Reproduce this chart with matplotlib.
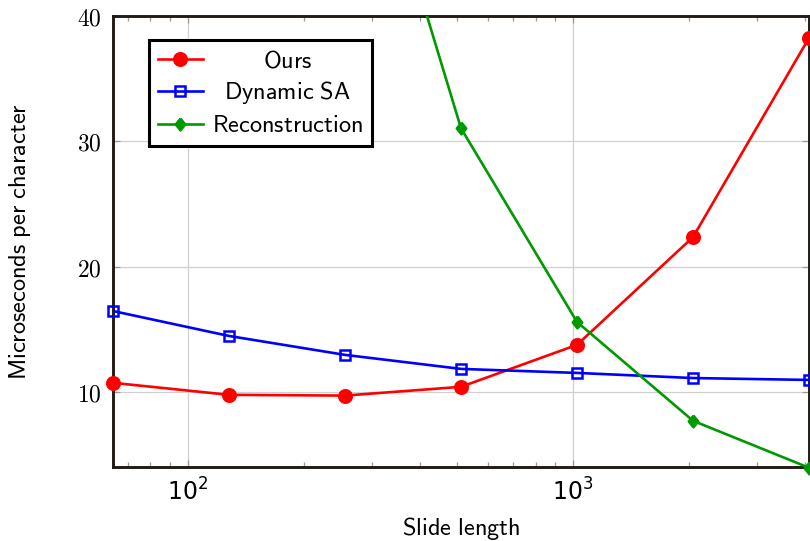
import numpy as np
import matplotlib
matplotlib.use("Agg")
import matplotlib.pyplot as plt
from matplotlib.ticker import FixedLocator, LogLocator, NullFormatter, FuncFormatter

plt.rcParams['mathtext.fontset'] = 'cm'

slide_length = [64, 128, 256, 512, 1024, 2048, 4096]
ours = [10.72, 9.76, 9.70, 10.40, 13.75, 22.35, 38.25]
dynamic_sa = [16.45, 14.46, 12.95, 11.83, 11.51, 11.10, 10.95]
recon_x = [256, 512, 1024, 2048, 4096]
reconstruction = [61.6, 31.04, 15.58, 7.69, 3.94]

y_ticks = [10, 20, 30, 40]

W, H = 810, 541
fig = plt.figure(figsize=(W / 100, H / 100), dpi=100)
ax = fig.add_axes([113 / W, 1 - 467 / H, (809 - 113) / W, (467 - 16) / H])

ax.set_xscale('log')
ax.set_xlim(64, 4096)
ax.set_ylim(4, 40)

red, blue, green = '#ff0000', '#0000ff', '#009900'
lw = 1.9
diamond = [(0, 1), (0.8, 0), (0, -1), (-0.8, 0), (0, 1)]

def series(x, y, color, marker, ms, mfc, label):
    x = np.asarray(x, float); y = np.asarray(y, float)
    ax.plot(x, y, color=color, lw=lw, zorder=5, clip_on=True)
    lo, hi = ax.get_ylim()
    m = (y >= lo - 1) & (y <= hi + 1)
    ax.plot(x[m], y[m], ls='none', marker=marker, ms=ms, mfc=mfc, mec=color,
            mew=1.8, zorder=6, clip_on=False)
    ax.plot([], [], color=color, lw=lw, marker=marker, ms=ms, mfc=mfc, mec=color,
            mew=1.8, label=label)

series(slide_length, ours, red, 'o', 9, red, r'$\mathsf{Ours}$')
series(slide_length, dynamic_sa, blue, 's', 7.5, 'none', r'$\mathsf{Dynamic\ SA}$')
series(recon_x, reconstruction, green, diamond, 8.5, green, r'$\mathsf{Reconstruction}$')

ax.grid(True, which='major', color='#d0d0d0', lw=0.9, zorder=0)
ax.set_axisbelow(True)
ax.yaxis.set_major_locator(FixedLocator(y_ticks))
ax.yaxis.set_major_formatter(FuncFormatter(lambda v, p: r'$%d$' % v))
ax.xaxis.set_major_locator(LogLocator(base=10))
ax.xaxis.set_minor_locator(LogLocator(base=10, subs=np.arange(2, 10)))
ax.xaxis.set_minor_formatter(NullFormatter())
ax.tick_params(which='both', direction='in', top=True, right=True, color='#999999',
               labelsize=17)
ax.tick_params(which='major', length=5, width=0.9)
ax.tick_params(which='minor', length=3.5, width=0.9)
ax.tick_params(axis='y', pad=8)
ax.tick_params(axis='x', pad=8)

spine_c = '#221a14'
for s in ax.spines.values():
    s.set_color(spine_c)
    s.set_linewidth(2.1)
    s.set_zorder(4)

ax.set_xlabel(r'$\mathsf{Slide\ length}$', labelpad=7, fontsize=17.5)
ax.set_ylabel(r'$\mathsf{Microseconds\ per\ character}$', labelpad=32, fontsize=17.5)

leg = ax.legend(loc='upper left', bbox_to_anchor=(0.052, 0.947), fontsize=17.5,
                frameon=True, fancybox=False, framealpha=1, edgecolor='black',
                handlelength=1.85, handletextpad=0.4, borderpad=0.35,
                labelspacing=0.28, borderaxespad=0)
leg.get_frame().set_linewidth(2.2)
leg.set_zorder(10)

fig.canvas.draw()
r = fig.canvas.get_renderer()
texts = leg.get_texts()
widths = [t.get_window_extent(r).width for t in texts]
mw = max(widths)
for t, w in zip(texts, widths):
    t.set_x((mw - w) / 2)

fig.savefig('out.png', dpi=100)
